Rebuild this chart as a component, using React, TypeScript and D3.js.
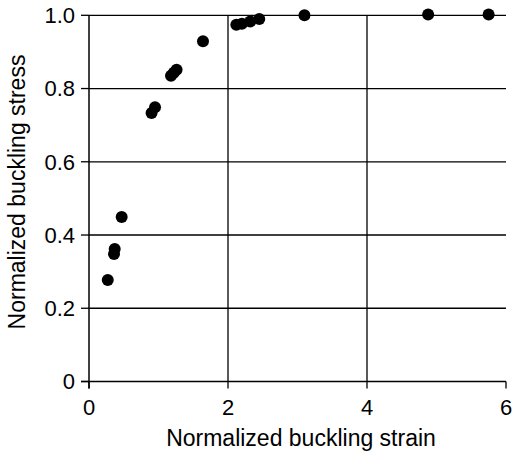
import React from "react";
import * as d3 from "d3";

const strain = [0.27, 0.36, 0.37, 0.47, 0.9, 0.95, 1.18, 1.22, 1.26, 1.64, 2.12, 2.2, 2.32, 2.45, 3.1, 4.88, 5.75];
const stress = [0.277, 0.348, 0.362, 0.449, 0.733, 0.749, 0.835, 0.843, 0.851, 0.929, 0.974, 0.977, 0.983, 0.99, 1.0, 1.002, 1.002];
const xTicks = [0, 2, 4, 6];
const yTicks = [0, 0.2, 0.4, 0.6, 0.8, 1.0];

const W = 512, H = 454;
const x0 = 89, x1 = 506, yTop = 15.3, yBot = 381.5;

export default function App() {
  const x = d3.scaleLinear().domain([0, 6]).range([x0, x1]);
  const y = d3.scaleLinear().domain([0, 1]).range([yBot, yTop]);
  const font = "Liberation Sans, Arial, sans-serif";
  return (
    <svg width={W} height={H} style={{ position: "absolute", left: 0, top: 0, background: "#fff" }}>
      {yTicks.filter(t => t > 0).map(t => (
        <line key={"h" + t} x1={x0} x2={x1} y1={y(t)} y2={y(t)} stroke="#000" strokeWidth={1.3} />
      ))}
      {xTicks.filter(t => t > 0 && t < 6).map(t => (
        <line key={"v" + t} x1={x(t)} x2={x(t)} y1={yTop} y2={yBot} stroke="#000" strokeWidth={1.3} />
      ))}
      <line x1={x0} x2={x0} y1={yTop} y2={yBot + 7} stroke="#000" strokeWidth={1.5} />
      <line x1={x0 - 8} x2={x1} y1={yBot} y2={yBot} stroke="#000" strokeWidth={1.3} />
      {yTicks.map(t => (
        <g key={"yt" + t}>
          <line x1={x0 - 8} x2={x0} y1={y(t)} y2={y(t)} stroke="#000" strokeWidth={1.3} />
          <text x={x0 - 14} y={y(t)} dy="0.36em" textAnchor="end" fontFamily={font} fontSize={22}>
            {t === 0 ? "0" : t.toFixed(1)}
          </text>
        </g>
      ))}
      {xTicks.map(t => (
        <g key={"xt" + t}>
          <line x1={x(t)} x2={x(t)} y1={yBot} y2={yBot + 7} stroke="#000" strokeWidth={1.3} />
          <text x={x(t)} y={415} textAnchor="middle" fontFamily={font} fontSize={22}>{t}</text>
        </g>
      ))}
      <text x={301} y={446} textAnchor="middle" fontFamily={font} fontSize={23}>
        Normalized buckling strain
      </text>
      <text transform={`translate(25, 192) rotate(-90)`} textAnchor="middle" fontFamily={font} fontSize={23}>
        Normalized buckling stress
      </text>
      {strain.map((s, i) => (
        <circle key={"p" + i} cx={x(s)} cy={y(stress[i])} r={6} fill="#000" />
      ))}
    </svg>
  );
}
